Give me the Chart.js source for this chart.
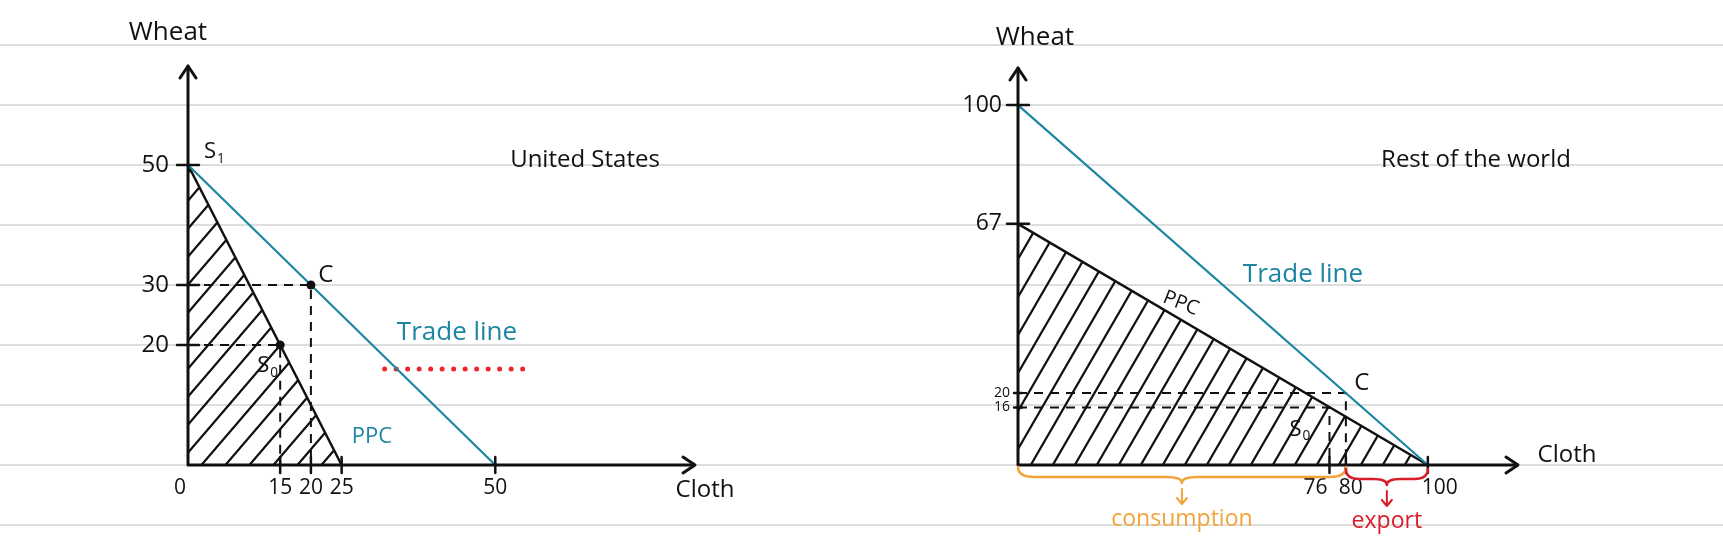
<!DOCTYPE html>
<html>
<head>
<meta charset="utf-8">
<script src="https://cdn.jsdelivr.net/npm/chart.js@4.4.1/dist/chart.umd.min.js"></script>
<style>
  html, body { margin: 0; padding: 0; }
  body {
    width: 1723px; height: 548px; overflow: hidden; position: relative; background: #fff;
    background-image: repeating-linear-gradient(to bottom, transparent 0, transparent 44px, #dedede 44px, #dedede 46px, transparent 46px, transparent 60px);
  }
  canvas { position: absolute; top: 0; }
  #us { left: 0; }
  #row { left: 860px; }
</style>
</head>
<body>
<canvas id="us" width="860" height="548"></canvas>
<canvas id="row" width="863" height="548"></canvas>
<script>
// United States (cloth on x, wheat on y)
const usClothTicks = [0, 15, 20, 25, 50];
const usWheatTicks = [20, 30, 50];
const usPpcCloth = [0, 25];
const usPpcWheat = [50, 0];
const usTradeCloth = [0, 50];
const usTradeWheat = [50, 0];
const usProduction = [15, 20];   // S0
const usConsumption = [20, 30];  // C
const usRedCloth = [32, 54.5];
const usRedWheat = [16, 16];

// Rest of the world
const rowClothTicks = [76, 80, 100];
const rowWheatTicks = [16, 20, 67, 100];
const rowPpcCloth = [0, 100];
const rowPpcWheat = [67, 0];
const rowTradeCloth = [0, 100];
const rowTradeWheat = [100, 0];
const rowProduction = [76, 16];  // S0
const rowConsumption = [80, 20]; // C
const rowConsumptionRange = [0, 80];
const rowExportRange = [80, 100];

const INK = '#111';
const TEAL = '#1c86a2';
const ORANGE = '#f4a23a';
const RED = '#d81e2a';
const FONT = "'Open Sans', sans-serif";

const pts = (xs, ys) => xs.map((x, i) => ({ x: x, y: ys[i] }));
const corner = p => [{ x: 0, y: p[1] }, { x: p[0], y: p[1] }, { x: p[0], y: 0 }];

function hatch(w, h) {
  const c = document.createElement('canvas');
  c.width = w; c.height = h;
  const g = c.getContext('2d');
  g.strokeStyle = INK;
  g.lineWidth = 2.2;
  g.beginPath();
  [-w, 0, w].forEach(dx => {
    g.moveTo(dx - w, 2 * h);
    g.lineTo(dx + 2 * w, -h);
  });
  g.stroke();
  return g.createPattern(c, 'repeat');
}

function text(ctx, s, x, y, size, color, align) {
  ctx.font = size + 'px ' + FONT;
  ctx.fillStyle = color || INK;
  ctx.textAlign = align || 'center';
  ctx.textBaseline = 'middle';
  ctx.fillText(s, x, y);
}

// letter with a small subscript, centred on the letter
function subText(ctx, s, sub, x, y, size) {
  ctx.font = size + 'px ' + FONT;
  const w = ctx.measureText(s).width;
  text(ctx, s, x - w / 2, y, size, INK, 'left');
  text(ctx, sub, x + w / 2 + 1, y + size * 0.32, size * 0.62, INK, 'left');
}

function brace(ctx, x0, x1, y0, color, label) {
  const m = (x0 + x1) / 2, q = Math.min(16, (x1 - x0) / 6), h = 10;
  ctx.strokeStyle = color;
  ctx.lineWidth = 2.5;
  ctx.beginPath();
  ctx.moveTo(x0, y0);
  ctx.quadraticCurveTo(x0, y0 + h, x0 + q, y0 + h);
  ctx.lineTo(m - q, y0 + h);
  ctx.quadraticCurveTo(m, y0 + h, m, y0 + h + 6);
  ctx.quadraticCurveTo(m, y0 + h, m + q, y0 + h);
  ctx.lineTo(x1 - q, y0 + h);
  ctx.quadraticCurveTo(x1, y0 + h, x1, y0);
  ctx.stroke();
  ctx.lineWidth = 2;
  ctx.beginPath();
  ctx.moveTo(m, y0 + h + 12); ctx.lineTo(m, y0 + h + 27);
  ctx.moveTo(m - 5, y0 + h + 21); ctx.lineTo(m, y0 + h + 27); ctx.lineTo(m + 5, y0 + h + 21);
  ctx.stroke();
  text(ctx, label, m, y0 + h + 42, 23, color);
}

const sketch = o => ({
  id: 'sketch',
  afterDatasetsDraw(chart) {
    const ctx = chart.ctx;
    const X = v => chart.scales.x.getPixelForValue(v);
    const Y = v => chart.scales.y.getPixelForValue(v);
    const ox = X(0), oy = Y(0), ex = X(o.xMax), ty = Y(o.yMax);
    ctx.save();
    ctx.strokeStyle = INK;
    ctx.lineCap = 'round';
    ctx.lineJoin = 'round';

    // arrow heads
    ctx.lineWidth = 3;
    ctx.beginPath();
    ctx.moveTo(ox - 8, ty + 12); ctx.lineTo(ox, ty); ctx.lineTo(ox + 8, ty + 12);
    ctx.moveTo(ex - 12, oy - 8); ctx.lineTo(ex, oy); ctx.lineTo(ex - 12, oy + 8);
    ctx.stroke();

    // tick marks
    ctx.lineWidth = 2.5;
    ctx.beginPath();
    o.wheatTicks.forEach(v => {
      const s = o.small.includes(v) ? 4 : 11;
      ctx.moveTo(ox - s, Y(v)); ctx.lineTo(ox + s, Y(v));
    });
    o.clothTicks.forEach(v => {
      if (v === 0) return;
      ctx.moveTo(X(v), oy - 8); ctx.lineTo(X(v), oy + 8);
    });
    ctx.stroke();

    // tick labels
    o.wheatTicks.forEach(v => {
      const sz = o.small.includes(v) ? 14 : o.ySize;
      const gap = o.small.includes(v) ? 8 : o.yGap;
      text(ctx, String(v), ox - gap, Y(v), sz, INK, 'right');
    });
    o.clothTicks.forEach(v => {
      const dx = (o.nudge[v] || 0);
      text(ctx, String(v), X(v) + dx, oy + 23, o.xSize);
    });

    // titles and names
    o.notes.forEach(n => text(ctx, n.t, n.x, n.y, n.size, n.color));

    // point labels
    const c = o.consumption, p = o.production;
    text(ctx, 'C', X(c[0]) + o.cOff[0], Y(c[1]) + o.cOff[1], 24);
    subText(ctx, 'S', '0', X(p[0]) + o.sOff[0], Y(p[1]) + o.sOff[1], 22);
    if (o.s1) subText(ctx, 'S', '1', ox + 22, Y(o.s1) - 13, 22);

    if (o.ppcAt !== undefined) {
      const x0 = X(o.ppcX[0]), y0 = Y(o.ppcY[0]), x1 = X(o.ppcX[1]), y1 = Y(o.ppcY[1]);
      const ang = Math.atan2(y1 - y0, x1 - x0);
      const px = X(o.ppcAt), py = y0 + (px - x0) * (y1 - y0) / (x1 - x0);
      ctx.save();
      ctx.translate(px + 14 * Math.sin(ang), py - 14 * Math.cos(ang));
      ctx.rotate(ang * 0.7);
      text(ctx, 'PPC', 0, 0, 20);
      ctx.restore();
    }

    if (o.ranges) {
      brace(ctx, X(o.ranges[0][0]), X(o.ranges[0][1]), oy + 2, ORANGE, 'consumption');
      brace(ctx, X(o.ranges[1][0]), X(o.ranges[1][1]), oy + 4, RED, 'export');
    }
    ctx.restore();
  }
});

function drawDiagram(id, o) {
  const line = { pointRadius: 0, tension: 0, clip: false, fill: false };
  const datasets = [
    Object.assign({}, line, { data: [{ x: 0, y: o.yMax }, { x: 0, y: 0 }, { x: o.xMax, y: 0 }], borderColor: INK, borderWidth: 3, borderJoinStyle: 'round' }),
    Object.assign({}, line, { data: pts(o.tradeX, o.tradeY), borderColor: TEAL, borderWidth: 2.2 }),
    Object.assign({}, line, { data: pts(o.ppcX, o.ppcY), borderColor: INK, borderWidth: 2.5, fill: 'origin', backgroundColor: hatch(o.hatch[0], o.hatch[1]) }),
    Object.assign({}, line, { data: corner(o.consumption), borderColor: INK, borderWidth: 2, borderDash: [9, 7] }),
    Object.assign({}, line, { data: corner(o.production), borderColor: INK, borderWidth: 2, borderDash: [9, 7] })
  ];
  if (o.dots) {
    datasets.unshift(Object.assign({}, line, {
      data: [{ x: o.consumption[0], y: o.consumption[1] }, { x: o.production[0], y: o.production[1] }],
      showLine: false, pointRadius: 4.5, pointBackgroundColor: INK, pointBorderWidth: 0
    }));
  }
  if (o.redX) {
    datasets.push(Object.assign({}, line, {
      data: pts(o.redX, o.redY), borderColor: '#f0242c', borderWidth: 5, borderDash: [0, 11.5], borderCapStyle: 'round'
    }));
  }
  new Chart(document.getElementById(id), {
    type: 'line',
    data: { datasets: datasets },
    options: {
      responsive: false,
      animation: false,
      layout: { padding: o.pad },
      plugins: { legend: { display: false }, tooltip: { enabled: false } },
      scales: {
        x: { type: 'linear', min: 0, max: o.xMax, display: false },
        y: { type: 'linear', min: 0, max: o.yMax, display: false }
      }
    },
    plugins: [sketch(o)]
  });
}

drawDiagram('us', {
  pad: { left: 188, right: 165, top: 66, bottom: 83 },
  xMax: 82.5, yMax: 66.5,
  clothTicks: usClothTicks, wheatTicks: usWheatTicks, small: [],
  ppcX: usPpcCloth, ppcY: usPpcWheat,
  tradeX: usTradeCloth, tradeY: usTradeWheat,
  production: usProduction, consumption: usConsumption,
  redX: usRedCloth, redY: usRedWheat,
  hatch: [24, 28], dots: true, s1: 50,
  ySize: 24, yGap: 19, xSize: 21, nudge: { 0: -8 },
  cOff: [15, -10], sOff: [-17, 21],
  notes: [
    { t: 'Wheat', x: 168, y: 33, size: 26 },
    { t: 'United States', x: 585, y: 160, size: 24 },
    { t: 'Trade line', x: 457, y: 333, size: 26, color: TEAL },
    { t: 'PPC', x: 372, y: 437, size: 22, color: TEAL },
    { t: 'Cloth', x: 705, y: 490, size: 24 }
  ]
});

drawDiagram('row', {
  pad: { left: 158, right: 205, top: 68, bottom: 83 },
  xMax: 122, yMax: 110.3,
  clothTicks: rowClothTicks, wheatTicks: rowWheatTicks, small: [16, 20],
  ppcX: rowPpcCloth, ppcY: rowPpcWheat,
  tradeX: rowTradeCloth, tradeY: rowTradeWheat,
  production: rowProduction, consumption: rowConsumption,
  hatch: [22, 38], dots: false, ppcAt: 38,
  ranges: [rowConsumptionRange, rowExportRange],
  ySize: 23, yGap: 16, xSize: 21, nudge: { 76: -14, 80: 5, 100: 12 },
  cOff: [16, -10], sOff: [-34, 22],
  notes: [
    { t: 'Wheat', x: 175, y: 38, size: 26 },
    { t: 'Rest of the world', x: 616, y: 160, size: 24 },
    { t: 'Trade line', x: 443, y: 275, size: 26, color: TEAL },
    { t: 'Cloth', x: 707, y: 455, size: 24 }
  ]
});
</script>
</body>
</html>
